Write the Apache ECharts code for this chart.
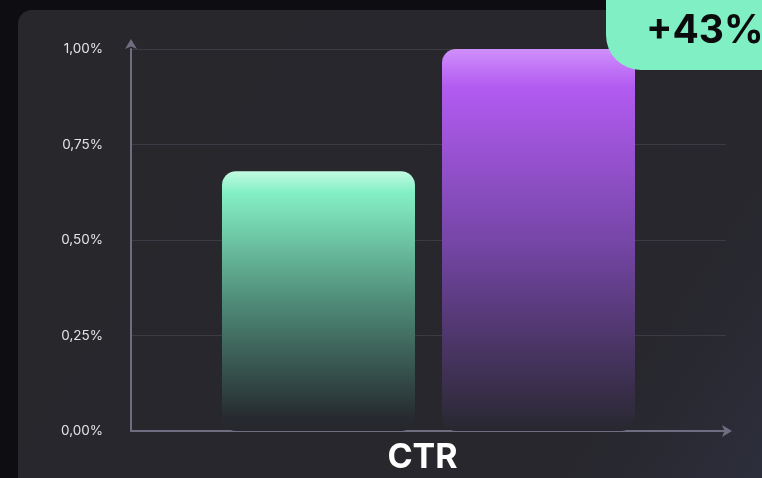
<!DOCTYPE html>
<html lang="en">
<head>
    <meta charset="UTF-8">
    <title>CTR</title>
    <script src="https://cdn.jsdelivr.net/npm/echarts@6/dist/echarts.min.js"></script>
    <style>
        html, body { margin: 0; padding: 0; background: #0e0e12; }
    </style>
</head>
<body>
    <div id="chart" style="width: 762px; height: 478px;"></div>
    <script>
        // Data
        var categories = ['CTR'];
        var before = [0.68];
        var after = [1.00];
        var yTicks = [0, 0.25, 0.5, 0.75, 1.0];
        var badgeText = '+43%';

        var chart = echarts.init(document.getElementById('chart'));

        function fmt(v) {
            return v.toFixed(2).replace('.', ',') + '%';
        }

        var option = {
            backgroundColor: '#0e0e12',
            animation: false,
            graphic: [
                {
                    type: 'rect', z: -10,
                    shape: { x: 18, y: 10, width: 800, height: 520, r: 14 },
                    style: {
                        fill: new echarts.graphic.LinearGradient(0, 0, 1, 1, [
                            { offset: 0, color: '#27272c' },
                            { offset: 0.75, color: '#27272d' },
                            { offset: 1, color: '#2f3142' }
                        ])
                    }
                },
                {
                    type: 'rect', z: 100,
                    shape: { x: 606, y: -40, width: 220, height: 110, r: 35 },
                    style: { fill: '#80f0c4' }
                },
                {
                    type: 'text', z: 101,
                    left: 646, top: 12,
                    style: {
                        text: badgeText,
                        fill: '#0b0b0d',
                        font: 'bold 39px Inter, "Noto Sans", sans-serif'
                    }
                }
            ],
            grid: { left: 131, right: 36, top: 49, bottom: 47 },
            xAxis: {
                type: 'category',
                data: categories,
                axisLine: {
                    show: true,
                    symbol: ['none', 'arrow'],
                    symbolSize: [9, 10],
                    symbolOffset: [0, 6],
                    lineStyle: { color: '#6e6d82', width: 2 }
                },
                axisTick: { show: false },
                axisLabel: {
                    color: '#ffffff',
                    fontSize: 34,
                    fontWeight: 'bold',
                    fontFamily: 'Inter, "Noto Sans", sans-serif',
                    margin: 10,
                    padding: [0, 12, 0, 0]
                }
            },
            yAxis: {
                type: 'value',
                min: 0,
                max: 1,
                interval: 0.25,
                axisLine: {
                    show: true,
                    symbol: ['none', 'arrow'],
                    symbolSize: [9, 10],
                    symbolOffset: [0, 10],
                    lineStyle: { color: '#6e6d82', width: 2 }
                },
                axisTick: { show: false },
                splitLine: { lineStyle: { color: '#3b3b45', width: 1 } },
                axisLabel: {
                    color: '#e4e4e8',
                    fontSize: 13.5,
                    fontFamily: 'Inter, "Noto Sans", sans-serif',
                    margin: 28,
                    formatter: function (v) {
                        return yTicks.indexOf(v) >= 0 ? fmt(v) : '';
                    }
                }
            },
            series: [
                {
                    type: 'bar',
                    data: before,
                    barWidth: 193,
                    barGap: '14%',
                    itemStyle: {
                        borderRadius: [14, 14, 14, 14],
                        color: new echarts.graphic.LinearGradient(0, 0, 0, 1, [
                            { offset: 0, color: '#c2fae2' },
                            { offset: 0.08, color: '#84f0c6' },
                            { offset: 0.5, color: '#4f8c78' },
                            { offset: 0.95, color: '#262a2f' },
                            { offset: 1, color: '#27272d' }
                        ])
                    }
                },
                {
                    type: 'bar',
                    data: after,
                    barWidth: 193,
                    itemStyle: {
                        borderRadius: [14, 14, 14, 14],
                        color: new echarts.graphic.LinearGradient(0, 0, 0, 1, [
                            { offset: 0, color: '#d08ffb' },
                            { offset: 0.1, color: '#b25bf1' },
                            { offset: 0.5, color: '#7646a8' },
                            { offset: 0.96, color: '#2e2a3a' },
                            { offset: 1, color: '#28272f' }
                        ])
                    }
                }
            ]
        };

        chart.setOption(option);
    </script>
</body>
</html>
